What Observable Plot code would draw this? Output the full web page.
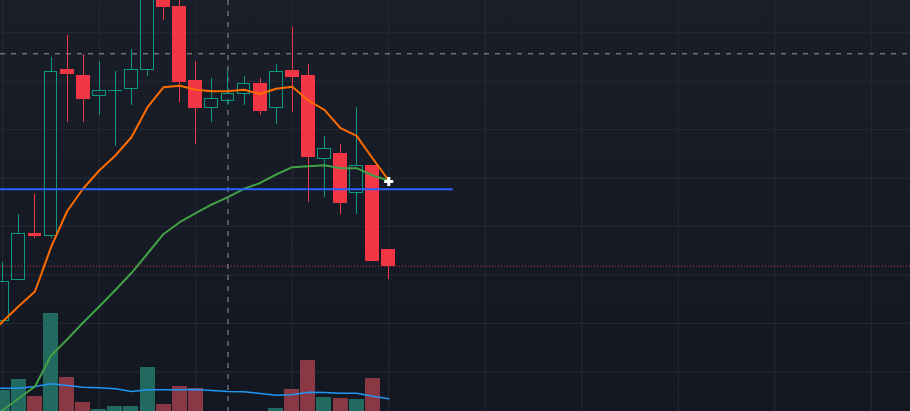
<!DOCTYPE html>
<html><head><meta charset="utf-8">
<script src="https://cdn.jsdelivr.net/npm/d3@7"></script>
<script src="https://cdn.jsdelivr.net/npm/@observablehq/plot@0.6"></script>
<style>
html,body{margin:0;padding:0;background:#161a25;}
#chart{position:relative;width:910px;height:411px;overflow:hidden;background:linear-gradient(#1a1e29,#131722);}
#chart svg{position:absolute;left:0;top:0;}
</style></head><body><div id="chart"></div>
<script>
// ---- data (candle index 0..24) ----
const opens  = [20.45, 29.00, 38.50, 38.00, 72.36, 70.98, 66.99, 67.95, 68.44, 72.36, 87.50, 85.43, 69.95, 64.43, 65.96, 67.32, 69.47, 64.43, 72.01, 70.98, 53.90, 55.02, 46.96, 52.54, 35.05];
const highs  = [32.51, 42.48, 46.61, 74.90, 79.44, 75.58, 74.07, 72.01, 76.55, 89.15, 89.77, 87.29, 74.07, 70.50, 71.95, 70.98, 70.50, 73.46, 81.10, 73.46, 58.59, 56.94, 64.58, 52.54, 35.05];
const lows   = [20.45, 29.00, 37.59, 37.59, 61.54, 61.54, 62.99, 56.59, 65.05, 71.04, 82.60, 65.67, 57.00, 61.54, 65.05, 65.05, 62.99, 61.13, 63.61, 45.02, 46.06, 42.54, 42.54, 32.84, 29.12];
const closes = [28.50, 38.50, 38.00, 71.95, 71.45, 66.29, 68.02, 68.02, 72.36, 87.91, 85.29, 69.80, 64.43, 66.29, 67.41, 69.47, 63.81, 71.95, 70.83, 54.31, 56.05, 44.82, 52.54, 32.84, 31.81];
const volumes = [4.1, 5.2, 3.5, 11.77, 5.4, 2.9, 2.2, 2.5, 2.5, 6.4, 2.7, 4.5, 4.3, 1.6, 1.4, 1.7, 1.5, 2.3, 4.2, 7.1, 3.4, 3.3, 3.2, 5.3, 1.2];
// moving averages, index -1 (just off the left edge) .. 24
const maFast = [17.09, 20.39, 23.59, 26.58, 35.73, 43.16, 47.85, 51.57, 54.67, 58.44, 64.64, 68.77, 69.06, 68.23, 67.94, 67.94, 68.23, 67.36, 68.44, 68.85, 66.02, 64.10, 60.30, 58.73, 54.05, 49.50];
const maSlow = [-0.80, 2.12, 4.55, 6.97, 13.37, 16.67, 20.18, 23.49, 26.89, 30.40, 34.43, 38.46, 40.89, 42.75, 44.55, 46.06, 47.79, 48.99, 50.74, 52.25, 52.46, 52.66, 52.04, 52.04, 50.54, 49.50];
const volMa  = [4.33, 4.33, 4.33, 4.50, 4.77, 4.60, 4.43, 4.37, 4.27, 4.00, 4.17, 4.17, 4.17, 4.20, 4.10, 4.00, 3.97, 3.80, 3.63, 3.67, 3.93, 3.90, 3.83, 3.83, 3.53, 3.27];
const gridPrices = [10, 20, 30, 40, 50, 60, 70, 80];
const gridCandles = [0, 6, 12, 18, 24, 30, 36, 42, 48, 54];
const crosshairIndex = 14, crosshairPrice = 75.66;
const levelPrice = 47.71, levelFrom = -1, levelTo = 28;
const cursorIndex = 24, cursorPrice = 49.30;
const lastClose = closes[closes.length - 1];

// ---- colours ----
const UP = "#089981", DOWN = "#f23645";
const VOL_UP = "#22695f", VOL_DOWN = "#8a3844";

const candles = opens.map((o, i) => ({i, open: o, high: highs[i], low: lows[i], close: closes[i], up: closes[i] >= o}));
const vols = volumes.map((v, i) => ({i, v, up: candles[i].up}));
const mas = maFast.map((f, k) => ({i: k - 1, fast: f, slow: maSlow[k], vma: volMa[k]}));

const W = 910, H = 411;
const xDomain = [-0.143, 56.44];
const yPrice = {domain: [1.805, 86.67], axis: null};
const base = {width: W, height: H, margin: 0, x: {type: "linear", domain: xDomain, axis: null},
  style: {background: "transparent", overflow: "hidden"}};

const gridPlot = Plot.plot({...base, y: yPrice, marks: [
  Plot.ruleY(gridPrices, {stroke: "#262a35", strokeWidth: 1}),
  Plot.ruleX(gridCandles, {stroke: "#262a35", strokeWidth: 1})
]});

const volPlot = Plot.plot({...base, y: {domain: [0, 43.1], range: [431, 0], axis: null}, marks: [
  Plot.rect(vols, {x1: d => d.i - 0.466, x2: d => d.i + 0.466, y1: 0, y2: "v", fill: d => d.up ? VOL_UP : VOL_DOWN, shapeRendering: "crispEdges"}),
  Plot.line(mas, {x: "i", y: "vma", stroke: "#2196f3", strokeWidth: 1.5})
]});

const pricePlot = Plot.plot({...base, y: yPrice, marks: [
  Plot.ruleY([lastClose], {stroke: DOWN, strokeWidth: 1, strokeDasharray: "1,2", strokeOpacity: 0.85}),
  Plot.ruleY([crosshairPrice], {stroke: "#9598a1", strokeWidth: 1, strokeDasharray: "5,6"}),
  Plot.ruleX([crosshairIndex], {stroke: "#9598a1", strokeWidth: 1, strokeDasharray: "5,6"}),
  Plot.ruleX(candles, {x: "i", y1: "high", y2: d => Math.max(d.open, d.close), stroke: d => d.up ? UP : DOWN, strokeWidth: 1, shapeRendering: "crispEdges"}),
  Plot.ruleX(candles, {x: "i", y1: d => Math.min(d.open, d.close), y2: "low", stroke: d => d.up ? UP : DOWN, strokeWidth: 1, shapeRendering: "crispEdges"}),
  Plot.rect(candles, {x1: d => d.i - 0.4, x2: d => d.i + 0.4, y1: "open", y2: "close",
    fill: d => d.up ? "none" : DOWN, stroke: d => d.up ? UP : DOWN, strokeWidth: 1, shapeRendering: "crispEdges"}),
  Plot.line(mas, {x: "i", y: "slow", stroke: "#43a047", strokeWidth: 2}),
  Plot.line(mas, {x: "i", y: "fast", stroke: "#ff6d00", strokeWidth: 2}),
  Plot.ruleY([levelPrice], {x1: levelFrom, x2: levelTo, stroke: "#2962ff", strokeWidth: 2}),
  Plot.dot([{i: cursorIndex, p: cursorPrice}], {x: "i", y: "p", symbol: "cross", r: 3.8, fill: "white", stroke: "none"})
]});

const el = document.getElementById("chart");
el.append(gridPlot, volPlot, pricePlot);
</script>
</body></html>
